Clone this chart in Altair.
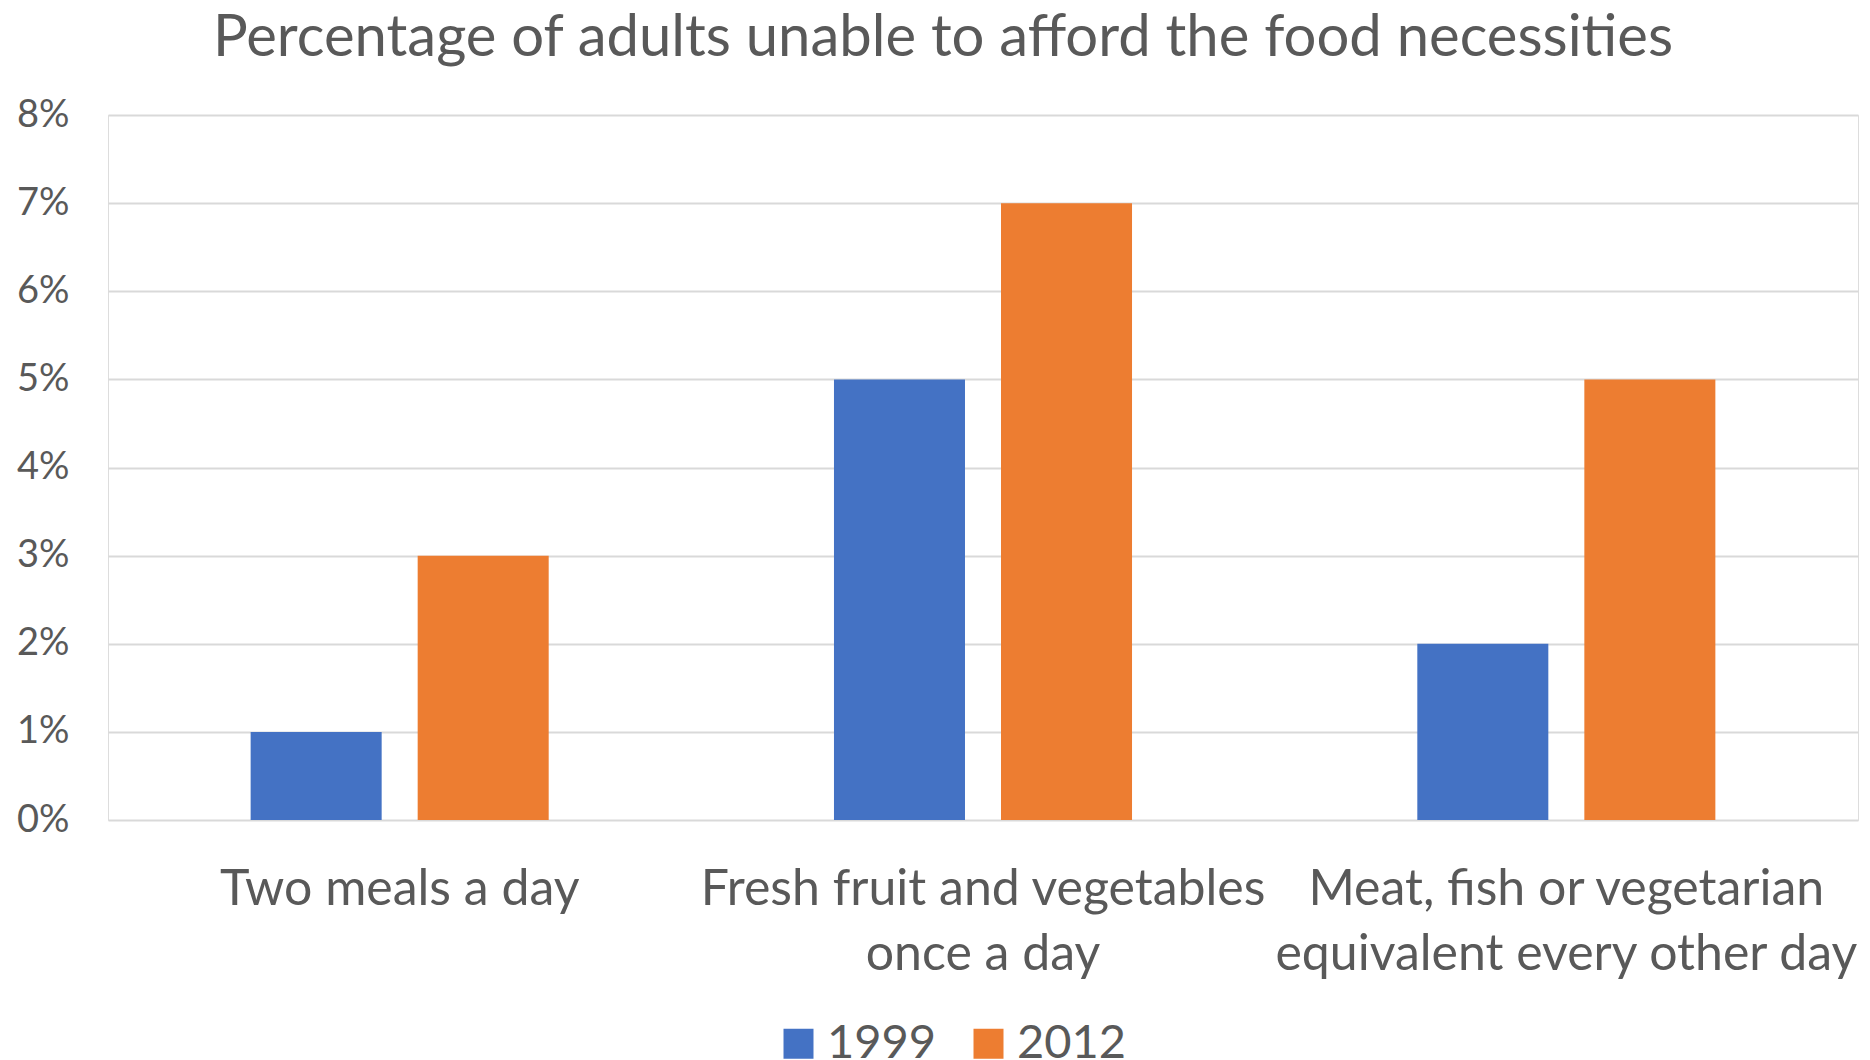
import altair as alt
import pandas as pd

# ---- data ----
categories = [
    "Two meals a day",
    "Fresh fruit and vegetables once a day",
    "Meat, fish or vegetarian equivalent every other day",
]
category_lines = [
    ["Two meals a day"],
    ["Fresh fruit and vegetables", "once a day"],
    ["Meat, fish or vegetarian", "equivalent every other day"],
]
years = ["1999", "2012"]
values_1999 = [0.01, 0.05, 0.02]
values_2012 = [0.03, 0.07, 0.05]
y_ticks = [0.0, 0.01, 0.02, 0.03, 0.04, 0.05, 0.06, 0.07, 0.08]
colors = ["#4472C4", "#ED7D31"]
title_text = "Percentage of adults unable to afford the food necessities"

rows = []
for cat, v in zip(categories, values_1999):
    rows.append({"category": cat, "year": years[0], "value": v})
for cat, v in zip(categories, values_2012):
    rows.append({"category": cat, "year": years[1], "value": v})
df = pd.DataFrame(rows)

# label expression that splits long category names into lines
expr = "datum.label"
for cat, lines in reversed(list(zip(categories, category_lines))):
    arr = "[" + ", ".join("'" + l.replace("'", "\\'") + "'" for l in lines) + "]"
    expr = f"datum.label == '{cat}' ? {arr} : ({expr})"

FONT = "Lato"
GREY = "#595959"

chart = (
    alt.Chart(df)
    .mark_bar()
    .encode(
        x=alt.X(
            "category:N",
            sort=categories,
            scale=alt.Scale(paddingInner=0, paddingOuter=0),
            axis=alt.Axis(
                title=None,
                labelAngle=0,
                ticks=False,
                domain=False,
                labelExpr=expr,
                labelFont=FONT,
                labelFontSize=50,
                labelColor=GREY,
                labelLineHeight=65,
                labelPadding=44,
                labelLimit=0,
                labelOverlap=False,
                labelBound=False,
                labelBaseline="top",
            ),
        ),
        xOffset=alt.XOffset(
            "year:N",
            sort=years,
            scale=alt.Scale(paddingInner=0.2156, paddingOuter=0.854),
        ),
        y=alt.Y(
            "value:Q",
            scale=alt.Scale(domain=[0, 0.08], nice=False),
            axis=alt.Axis(
                title=None,
                values=y_ticks,
                format=".0%",
                ticks=False,
                domain=False,
                labelFont=FONT,
                labelFontSize=38,
                labelColor=GREY,
                labelPadding=39,
                gridColor="#D9D9D9",
                gridWidth=2,
            ),
        ),
        color=alt.Color(
            "year:N",
            sort=years,
            scale=alt.Scale(domain=years, range=colors),
            legend=alt.Legend(
                title=None,
                orient="none",
                direction="horizontal",
                legendX=667,
                legendY=905,
                symbolType="square",
                symbolSize=900,
                symbolStrokeWidth=0,
                symbolOpacity=1,
                labelFont=FONT,
                labelFontSize=47,
                labelColor=GREY,
                labelOffset=5,
                columnPadding=28,
                padding=0,
            ),
        ),
    )
    .properties(
        width=1750,
        height=705,
        title=alt.TitleParams(
            title_text,
            font=FONT,
            fontSize=58,
            fontWeight="normal",
            color=GREY,
            anchor="middle",
            dx=-40,
            offset=28,
        ),
        autosize=alt.AutoSizeParams(type="none"),
        padding={"left": 100, "top": 107, "right": 4, "bottom": 240},
    )
    .configure_view(stroke=None)
    .configure(background="white")
)

chart.save("out.html", embed_options={"renderer": "svg", "actions": False})
